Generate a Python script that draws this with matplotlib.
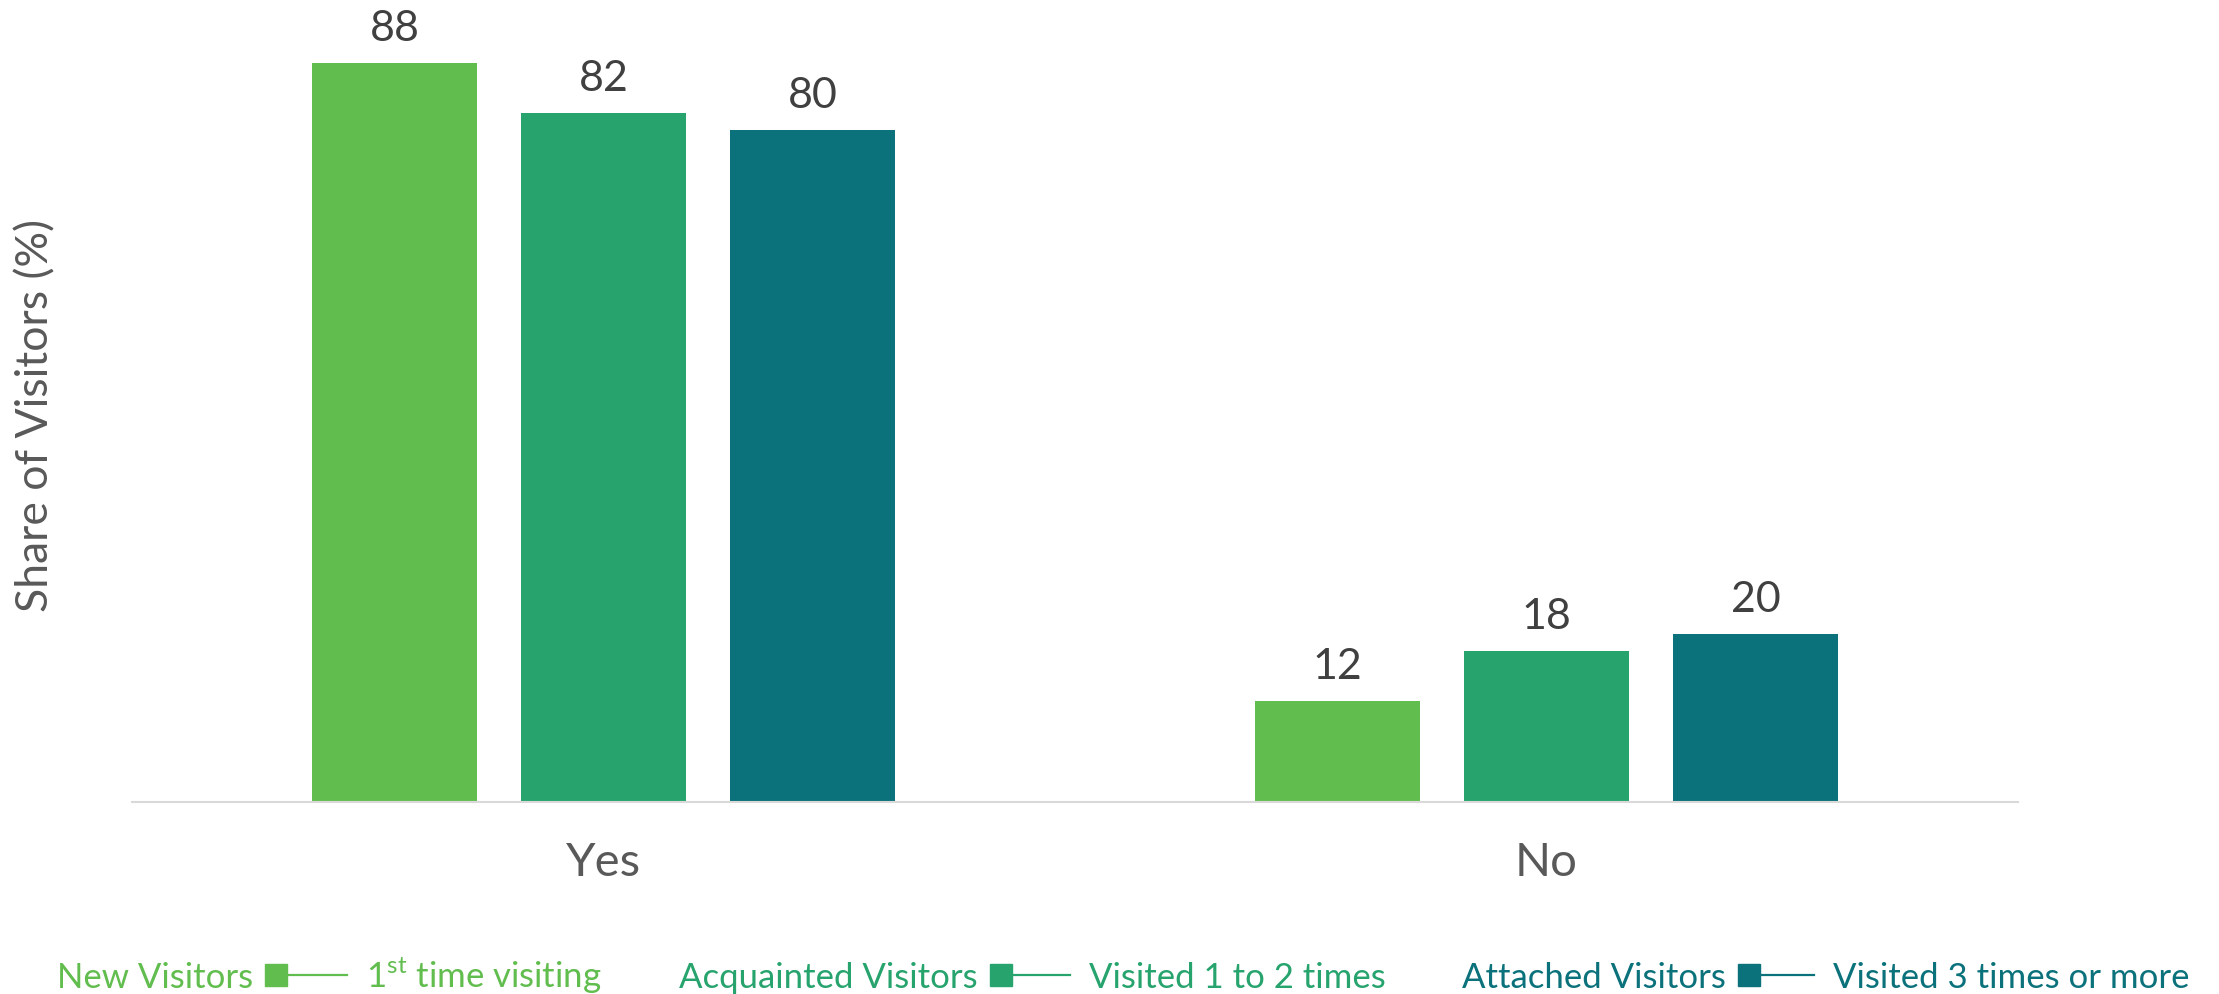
import numpy as np
import matplotlib
matplotlib.use("Agg")
import matplotlib.pyplot as plt
from matplotlib.lines import Line2D

plt.rcParams["font.family"] = ["Lato", "DejaVu Sans"]
plt.rcParams["mathtext.fontset"] = "custom"
plt.rcParams["mathtext.rm"] = "Lato"

categories = ["Yes", "No"]
series_names = ["New Visitors", "Acquainted Visitors", "Attached Visitors"]
series_desc = ["1$^{\\mathrm{st}}$ time visiting", "Visited 1 to 2 times", "Visited 3 times or more"]
new_visitors = [88, 12]
acquainted_visitors = [82, 18]
attached_visitors = [80, 20]
colors = ["#62BD4F", "#27A46E", "#0B727B"]

W, H = 2219, 994
fig = plt.figure(figsize=(W / 100, H / 100), dpi=100)
ax = fig.add_axes([132 / W, 192 / H, 1886 / W, 802 / H])

values = [new_visitors, acquainted_visitors, attached_visitors]
x = np.arange(len(categories))
bar_w = 0.175
step = 0.2216

for i, (vals, col) in enumerate(zip(values, colors)):
    xs = x + (i - 1) * step
    ax.bar(xs, vals, width=bar_w, color=col, zorder=2)
    for xi, v in zip(xs, vals):
        ax.annotate(str(v), (xi, v), xytext=(0, 16), textcoords="offset points",
                    ha="center", va="baseline", fontsize=31, color="#404040")

ax.set_xlim(-0.5, 1.5)
ax.set_ylim(0, 802 / 8.4)
for side in ["top", "right", "left"]:
    ax.spines[side].set_visible(False)
ax.spines["bottom"].set_color("#D9D9D9")
ax.spines["bottom"].set_linewidth(1.5)
ax.set_yticks([])
ax.set_xticks(x)
ax.set_xticklabels(categories, fontsize=34, color="#595959")
ax.tick_params(axis="x", length=0, pad=29)

fig.text(36 / W, 1 - 415 / H, "Share of Visitors (%)", rotation=90,
         ha="center", va="center", fontsize=32, color="#595959")

# legend: name, square + line marker, description
marker_left = [265, 990, 1738]
line_end = [347, 1070, 1814]
base_y = 1 - 988 / H
mid_y = 1 - 975 / H
for name, desc, col, ml, le in zip(series_names, series_desc, colors, marker_left, line_end):
    fig.text((ml - 12) / W, base_y, name, ha="right", va="baseline", fontsize=25, color=col)
    fig.add_artist(Line2D([(ml + 11) / W, le / W], [mid_y, mid_y], color=col, lw=1.6,
                          transform=fig.transFigure))
    fig.add_artist(Line2D([(ml + 11) / W], [mid_y], marker="s", markersize=16,
                          color=col, transform=fig.transFigure))
    fig.text((le + 19) / W, base_y, desc, ha="left", va="baseline", fontsize=25, color=col)

fig.savefig("out.png", dpi=100, facecolor="white")
